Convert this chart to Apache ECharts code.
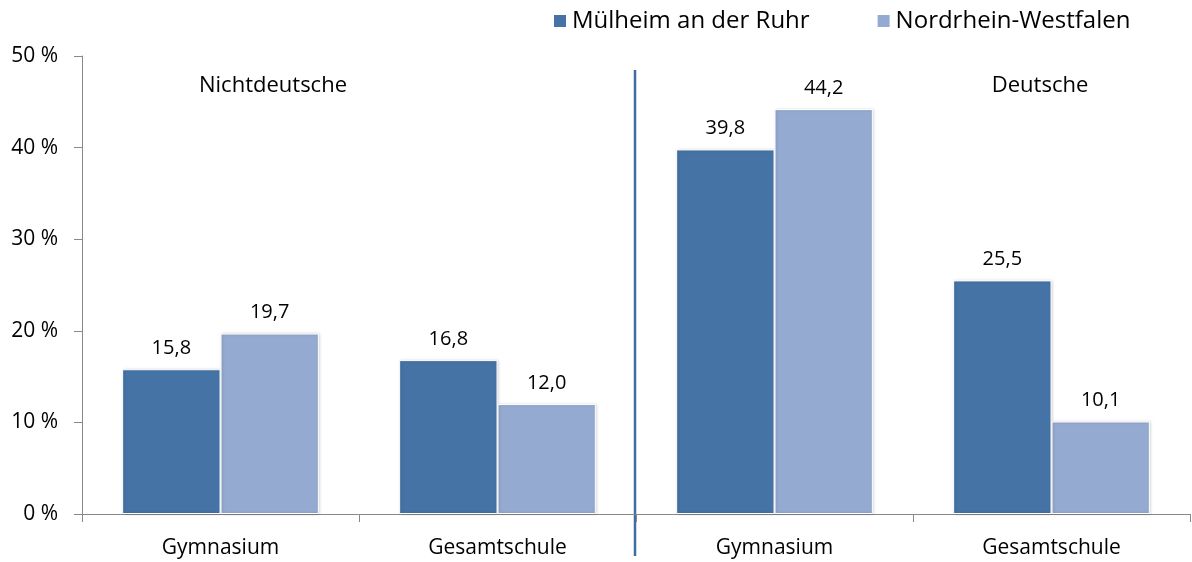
<!DOCTYPE html>
<html>
<head>
<meta charset="utf-8">
<script src="https://cdn.jsdelivr.net/npm/echarts@6/dist/echarts.min.js"></script>
<style>
  html, body { margin: 0; padding: 0; background: #fff; }
  #chart { width: 1192px; height: 562px; }
</style>
</head>
<body>
<div id="chart"></div>
<script>
// Daten
const categories = ['Gymnasium', 'Gesamtschule', 'Gymnasium', 'Gesamtschule']
const muelheim = [15.8, 16.8, 39.8, 25.5]
const nrw = [19.7, 12.0, 44.2, 10.1]
const seriesNames = ['Mülheim an der Ruhr', 'Nordrhein-Westfalen']
const groupLabels = ['Nichtdeutsche', 'Deutsche']

const FONT = 'Open Sans'
const grid = { left: 82, right: 2, top: 56, bottom: 48 }
const plotW = 1192 - grid.left - grid.right
const splitX = grid.left + plotW / 2

const chart = echarts.init(document.getElementById('chart'))

// Zahlen mit Komma
const fmt = (p) => p.value.toFixed(1).replace('.', ',')

const barStyle = (color) => ({
  color: color,
  borderColor: '#fff',
  borderWidth: 1,
  shadowColor: 'rgba(0,0,0,0.2)',
  shadowBlur: 3,
  shadowOffsetX: 1
})

const labelStyle = {
  show: true,
  position: 'top',
  distance: 11,
  formatter: fmt,
  color: '#000',
  fontFamily: FONT,
  fontSize: 20
}

chart.setOption({
  animation: false,
  textStyle: { fontFamily: FONT },
  legend: {
    data: seriesNames,
    left: 547,
    top: 4,
    icon: 'rect',
    itemWidth: 14,
    itemHeight: 14,
    itemGap: 66,
    textStyle: { fontSize: 24, color: '#000', fontFamily: FONT }
  },
  grid: grid,
  xAxis: {
    type: 'category',
    data: categories,
    axisLine: { lineStyle: { color: '#888', width: 1 } },
    axisTick: { show: true, interval: 0, length: 8, lineStyle: { color: '#888' } },
    axisLabel: { color: '#000', fontSize: 21, margin: 24, fontFamily: FONT }
  },
  yAxis: {
    type: 'value',
    min: 0,
    max: 50,
    interval: 10,
    axisLine: { show: true, lineStyle: { color: '#888' } },
    axisTick: { show: true, length: 8, lineStyle: { color: '#888' } },
    splitLine: { show: false },
    axisLabel: { formatter: '{value} %', color: '#000', fontSize: 21, margin: 24, fontFamily: FONT }
  },
  series: [
    {
      name: seriesNames[0],
      type: 'bar',
      data: muelheim,
      barGap: '0%',
      barCategoryGap: '29%',
      itemStyle: barStyle('#4573A6'),
      label: labelStyle
    },
    {
      name: seriesNames[1],
      type: 'bar',
      data: nrw,
      itemStyle: barStyle('#95AAD1'),
      label: labelStyle
    }
  ],
  graphic: [
    {
      type: 'line',
      shape: { x1: splitX - 1, y1: 70, x2: splitX - 1, y2: 556 },
      style: { stroke: '#3F6CA1', lineWidth: 2.5 }
    },
    {
      type: 'text',
      x: 273,
      y: 86,
      style: { text: groupLabels[0], fill: '#000', font: '22px "Open Sans"', textAlign: 'center', textVerticalAlign: 'middle' }
    },
    {
      type: 'text',
      x: 1040,
      y: 86,
      style: { text: groupLabels[1], fill: '#000', font: '22px "Open Sans"', textAlign: 'center', textVerticalAlign: 'middle' }
    }
  ]
})
</script>
</body>
</html>
